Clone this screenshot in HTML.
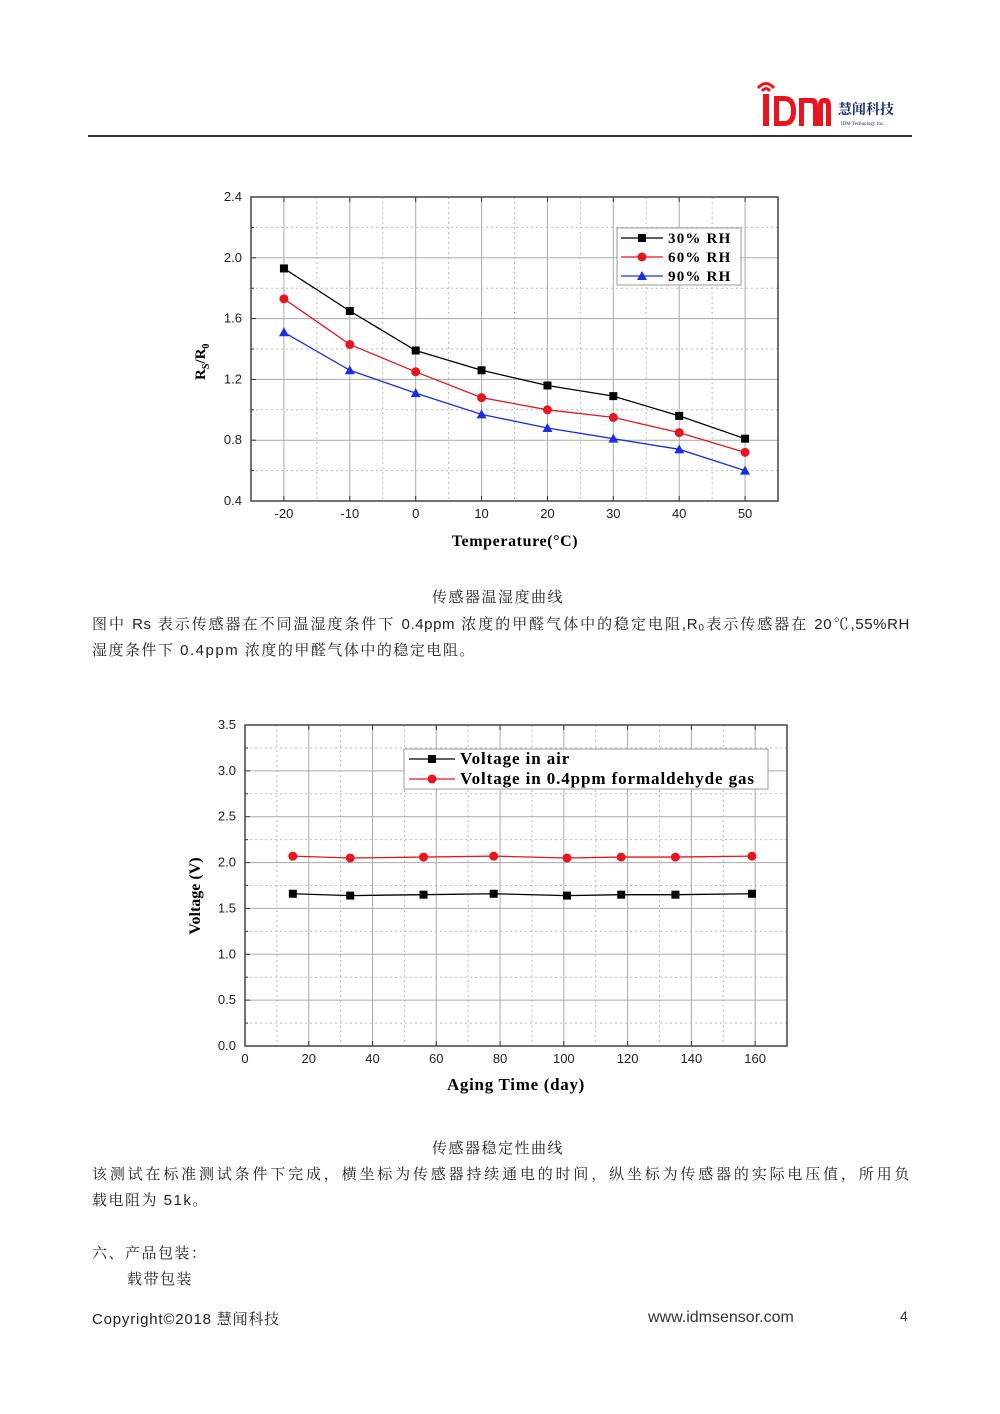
<!DOCTYPE html>
<html><head><meta charset="utf-8">
<style>
html,body{margin:0;padding:0;background:#fff;}
body{width:1000px;height:1414px;position:relative;overflow:hidden;font-family:"Liberation Sans","Noto Sans CJK SC",sans-serif;}
.abs{position:absolute;}
.cn{font-family:"Liberation Sans","Noto Serif CJK SC","Noto Sans CJK SC",sans-serif;font-size:15px;color:#222;letter-spacing:1.5px;white-space:nowrap;}
.j{text-align:justify;text-align-last:justify;width:818px;white-space:normal;height:22px;overflow:visible;}
.tick{font-family:"Liberation Sans",sans-serif;}
.sb{font-family:"Liberation Serif",serif;font-weight:bold;}
</style></head><body>
<div class="abs" style="left:752px;top:76px;width:160px;height:56px;">
 <svg width="160" height="56">
  <path d="M6 12 Q14 3 22 12" stroke="#e8141e" stroke-width="3" fill="none"/>
  <path d="M10 15 Q14 10 18 15" stroke="#e8141e" stroke-width="3" fill="none"/>
  <rect x="11" y="18" width="6" height="32" fill="#e8141e"/>
  <path d="M22 20 H32 Q44 20 44 35 Q44 50 32 50 H22 Z M27 25 V45 H32 Q39 45 39 35 Q39 25 32 25 Z" fill="#e8141e"/>
  <path d="M47 50 V22 H60 Q66 22 66 30 V50 H61 V30 Q61 27 58 27 H52 V50 Z M66 30 Q66 22 72 22 H74 Q79 22 79 30 V50 H74 V30 Q74 27 72 27 H71 V50 H66 Z" fill="#e8141e"/>
  <text x="86" y="38" font-size="14" font-weight="bold" fill="#1a2a6c" style="font-family:'Noto Serif CJK SC',serif">慧闻科技</text>
  <text x="89" y="49" font-size="5" fill="#1a2a6c" style="font-family:'Liberation Serif',serif">IDM Technology Inc.</text>
 </svg>
</div>
<div class="abs" style="left:88px;top:135px;width:824px;height:2px;background:#333;"></div>

<svg class="abs" style="left:0;top:0" width="1000" height="1414" id="charts"></svg>

<div class="abs cn" style="left:432px;top:586px;">传感器温湿度曲线</div>
<div class="abs cn j" style="left:92px;top:613px;letter-spacing:0.6px;">图中 Rs 表示传感器在不同温湿度条件下 0.4ppm 浓度的甲醛气体中的稳定电阻,R₀表示传感器在 20℃,55%RH</div>
<div class="abs cn" style="left:92px;top:639px;">湿度条件下 0.4ppm 浓度的甲醛气体中的稳定电阻。</div>
<div class="abs cn" style="left:432px;top:1137px;">传感器稳定性曲线</div>
<div class="abs cn j" style="left:92px;top:1163px;letter-spacing:0.6px;">该测试在标准测试条件下完成，横坐标为传感器持续通电的时间，纵坐标为传感器的实际电压值，所用负</div>
<div class="abs cn" style="left:92px;top:1189px;">载电阻为 51k。</div>
<div class="abs cn" style="left:92px;top:1242px;">六、产品包装：</div>
<div class="abs cn" style="left:127px;top:1268px;">载带包装</div>
<div class="abs cn" style="left:92px;top:1308px;letter-spacing:0.8px;">Copyright©2018 慧闻科技</div>
<div class="abs" style="left:648px;top:1309px;font-size:16px;color:#333;">www.idmsensor.com</div>
<div class="abs" style="left:900px;top:1308px;font-size:14px;color:#333;">4</div>

<script>
// Chart 1 data
const temps = [-20,-10,0,10,20,30,40,50];
const rh30 = [1.93,1.65,1.39,1.26,1.16,1.09,0.96,0.81];
const rh60 = [1.73,1.43,1.25,1.08,1.00,0.95,0.85,0.72];
const rh90 = [1.51,1.26,1.11,0.97,0.88,0.81,0.74,0.60];
const c1XTicks = [-20,-10,0,10,20,30,40,50];
const c1YTicks = [0.4,0.8,1.2,1.6,2.0,2.4];
// Chart 2 data
const days = [15,33,56,78,101,118,135,159];
const vAir = [1.66,1.64,1.65,1.66,1.64,1.65,1.65,1.66];
const vGas = [2.07,2.05,2.06,2.07,2.05,2.06,2.06,2.07];
const c2XTicks = [0,20,40,60,80,100,120,140,160];
const c2YTicks = [0.0,0.5,1.0,1.5,2.0,2.5,3.0,3.5];

const NS="http://www.w3.org/2000/svg";
const svg=document.getElementById('charts');
function mk(tag,attrs,parent){const e=document.createElementNS(NS,tag);for(const k in attrs)e.setAttribute(k,attrs[k]);(parent||svg).appendChild(e);return e;}

function chart(o){
  const g=mk('g',{});
  
  
  const sx=v=>o.x0+(v-o.xmin)/(o.xmax-o.xmin)*(o.x1-o.x0);
  const sy=v=>o.y1-(v-o.ymin)/(o.ymax-o.ymin)*(o.y1-o.y0);
  for(let v=o.xmin+o.xminor;v<o.xmax-1e-9;v+=o.xminor){
    const major=Math.abs(((v-o.xMajorBase)/o.xmajor)-Math.round((v-o.xMajorBase)/o.xmajor))<1e-6;
    const l=mk('line',{x1:sx(v),x2:sx(v),y1:o.y0,y2:o.y1,stroke:major?'#aaa':'#bbb','stroke-width':1,'stroke-dasharray':major?'':'2,3'},g);
    
    
    if(major){mk('line',{x1:sx(v),x2:sx(v),y1:o.y1,y2:o.y1-5,stroke:'#333'},g);mk('line',{x1:sx(v),x2:sx(v),y1:o.y0,y2:o.y0+5,stroke:'#333'},g);}
  }
  for(let v=o.ymin+o.yminor;v<o.ymax-1e-9;v+=o.yminor){
    const major=Math.abs(((v-o.ymin)/o.ymajor)-Math.round((v-o.ymin)/o.ymajor))<1e-6;
    const l=mk('line',{x1:o.x0,x2:o.x1,y1:sy(v),y2:sy(v),stroke:major?'#aaa':'#bbb','stroke-width':1,'stroke-dasharray':major?'':'2,3'},g);
    
    
    mk('line',{x1:o.x0,x2:o.x0+(major?5:3),y1:sy(v),y2:sy(v),stroke:'#333'},g);
  }
  const fr=mk('rect',{x:o.x0,y:o.y0,width:o.x1-o.x0,height:o.y1-o.y0,fill:'none',stroke:'#444','stroke-width':1.5},g);
  
  
  o.xticks.forEach(v=>{const t=mk('text',{x:sx(v),y:o.y1+17,'text-anchor':'middle','font-size':13,fill:'#222','class':'tick'},g);t.textContent=v;
    
    });
  o.yticks.forEach(v=>{const t=mk('text',{x:o.x0-9,y:sy(v)+4,'text-anchor':'end','font-size':13,fill:'#222','class':'tick'},g);t.textContent=v.toFixed(1);
    
    });
  o.series.forEach(s=>{
    const sg=mk('g',{},g);
    
    
    mk('polyline',{points:o.xs.map((x,i)=>sx(x)+','+sy(s.vals[i])).join(' '),fill:'none',stroke:s.color,'stroke-width':1.3},sg);
    o.xs.forEach((x,i)=>marker(sg,s.shape,sx(x),sy(s.vals[i]),s.color));
  });
  return {sx,sy};
}
function marker(p,shape,x,y,c){
  let m;
  if(shape==='sq')m=mk('rect',{x:x-4,y:y-4,width:8,height:8,fill:c},p);
  else if(shape==='ci')m=mk('circle',{cx:x,cy:y,r:4.5,fill:c},p);
  else m=mk('polygon',{points:`${x},${y-5} ${x-5},${y+4} ${x+5},${y+4}`,fill:c},p);
  
  
}
function txt(x,y,s,attrs,name){const t=mk('text',Object.assign({x:x,y:y,'class':'sb'},attrs));t.textContent=s;
  
  return t;}

chart({name:'chart-temperature-humidity',x0:251,x1:778,y0:197,y1:501,xmin:-25,xmax:55,ymin:0.4,ymax:2.4,
  xminor:5,xmajor:10,xMajorBase:-20,yminor:0.2,ymajor:0.4,xticks:c1XTicks,yticks:c1YTicks,xs:temps,
  series:[{name:'series-30rh',vals:rh30,color:'#000',shape:'sq'},{name:'series-60rh',vals:rh60,color:'#e8141e',shape:'ci'},{name:'series-90rh',vals:rh90,color:'#1a2ee8',shape:'tr'}]});
txt(515,546,'Temperature(°C)',{'text-anchor':'middle','font-size':16,'letter-spacing':'0.6'},'x-axis-title');
const yt=txt(0,0,'',{'font-size':15,transform:'translate(205,380) rotate(-90)'},'y-axis-title');
yt.innerHTML='R<tspan font-size="10" dy="4">S</tspan><tspan dy="-4">/R</tspan><tspan font-size="10" dy="4">0</tspan>';
const lg1=mk('g',{});


mk('rect',{x:617,y:228,width:124,height:57,fill:'#fff',stroke:'#999'},lg1);
[['30% RH','#000','sq'],['60% RH','#e8141e','ci'],['90% RH','#1a2ee8','tr']].forEach((d,i)=>{
  const y=238+i*19;
  mk('line',{x1:621,x2:663,y1:y,y2:y,stroke:d[1],'stroke-width':1.3},lg1);marker(lg1,d[2],642,y,d[1]);
  const t=mk('text',{x:668,y:y+5,'font-size':15,'class':'sb','letter-spacing':'1.2'},lg1);t.textContent=d[0];
  
  
});

chart({name:'chart-aging-stability',x0:245,x1:787,y0:725,y1:1046,xmin:0,xmax:170,ymin:0,ymax:3.5,
  xminor:10,xmajor:20,xMajorBase:0,yminor:0.25,ymajor:0.5,xticks:c2XTicks,yticks:c2YTicks,xs:days,
  series:[{name:'series-voltage-air',vals:vAir,color:'#000',shape:'sq'},{name:'series-voltage-gas',vals:vGas,color:'#e8141e',shape:'ci'}]});
txt(516,1090,'Aging Time (day)',{'text-anchor':'middle','font-size':17,'letter-spacing':'0.7'},'x-axis-title-2');
txt(0,0,'Voltage (V)',{'text-anchor':'middle','font-size':16,transform:'translate(200,896) rotate(-90)'},'y-axis-title-2');
const lg2=mk('g',{});


mk('rect',{x:404,y:749,width:364,height:40,fill:'#fff',stroke:'#999'},lg2);
[['Voltage in air','#000','sq'],['Voltage in 0.4ppm formaldehyde gas','#e8141e','ci']].forEach((d,i)=>{
  const y=759+i*20;
  mk('line',{x1:409,x2:455,y1:y,y2:y,stroke:d[1],'stroke-width':1.3},lg2);marker(lg2,d[2],432,y,d[1]);
  const t=mk('text',{x:460,y:y+5,'font-size':17,'class':'sb','letter-spacing':'0.9'},lg2);t.textContent=d[0];
  
  
});
</script>
</body></html>
